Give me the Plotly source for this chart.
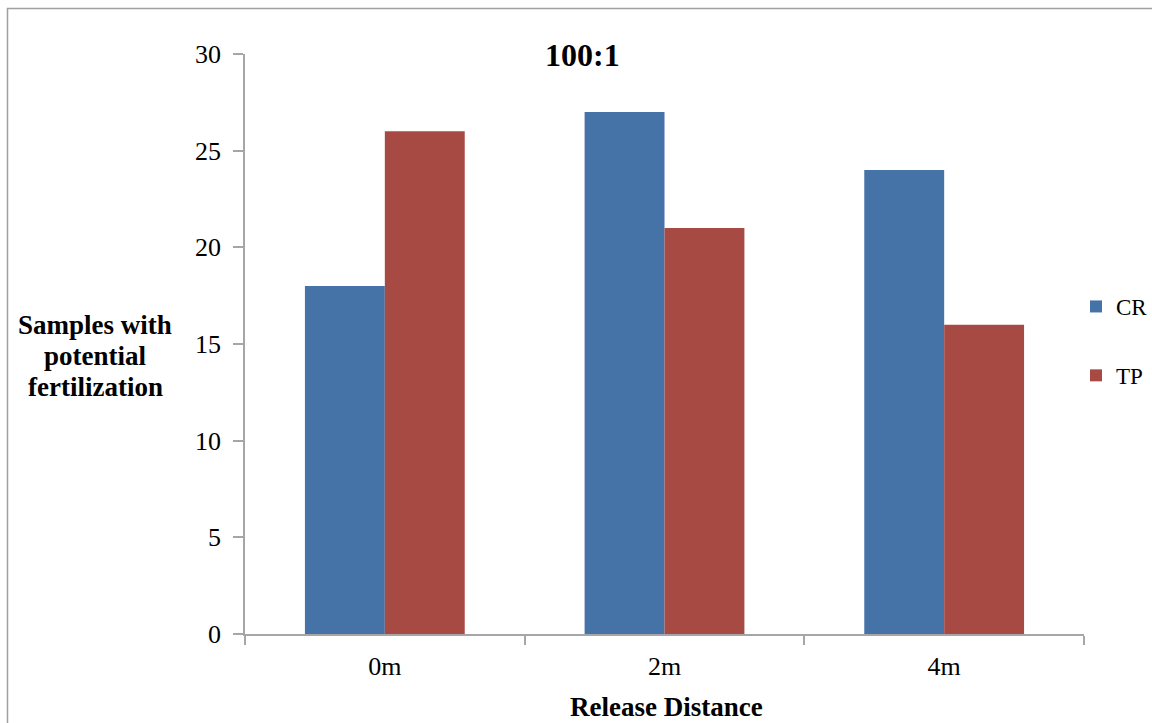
import plotly.graph_objects as go

categories = ["0m", "2m", "4m"]
cr_values = [18, 27, 24]
tp_values = [26, 21, 16]
y_ticks = [0, 5, 10, 15, 20, 25, 30]
y_title_lines = ["Samples with", "potential", "fertilization"]

FONT = "Liberation Serif"
AXIS_COLOR = "#a6a6a6"

fig = go.Figure()
fig.add_trace(go.Bar(name="CR", x=categories, y=cr_values, marker_color="#4572A7",
                     marker_line_width=0, legendgroup="CR"))
fig.add_trace(go.Bar(name="TP", x=categories, y=tp_values, marker_color="#A84A44",
                     marker_line_width=0, legendgroup="TP"))

L, R, T, B = 245, 1084, 54, 634
W, H = 1152, 723
pw, ph = R - L, B - T

annotations = [
    dict(text="<b>100:1</b>", x=(582 - L) / pw, y=(B - 55) / ph, xref="paper", yref="paper",
         xanchor="center", yanchor="middle", showarrow=False,
         font=dict(family=FONT, size=32, color="black")),
    dict(text="<b>Release Distance</b>", x=(666 - L) / pw, y=(B - 707) / ph, xref="paper",
         yref="paper", xanchor="center", yanchor="middle", showarrow=False,
         font=dict(family=FONT, size=27, color="black")),
]
for i, line in enumerate(y_title_lines):
    annotations.append(
        dict(text="<b>" + line + "</b>", x=(95 - L) / pw, y=(B - (325 + 31 * i)) / ph,
             xref="paper", yref="paper", xanchor="center", yanchor="middle",
             showarrow=False, font=dict(family=FONT, size=27, color="black")))

fig.update_layout(
    width=W, height=H,
    margin=dict(l=L, r=W - R, t=T, b=H - B, pad=0, autoexpand=False),
    paper_bgcolor="white", plot_bgcolor="white",
    barmode="group", bargap=0.4286, bargroupgap=0,
    font=dict(family=FONT, size=26, color="black"),
    showlegend=True,
    legend=dict(xref="container", yref="container", x=1076 / W, xanchor="left",
                y=1 - 341 / H, yanchor="middle",
                traceorder="grouped", tracegroupgap=36,
                font=dict(family=FONT, size=23, color="black"),
                itemwidth=30, bgcolor="rgba(0,0,0,0)"),
    xaxis=dict(showline=True, linecolor=AXIS_COLOR, linewidth=1.5, automargin=False,
               ticks="outside", tickson="boundaries", ticklen=9, tickcolor=AXIS_COLOR,
               tickwidth=1.5, showgrid=False, tickfont=dict(family=FONT, size=26),
               ticklabelstandoff=8),
    yaxis=dict(range=[0, 30], tickvals=y_ticks, showline=True, linecolor=AXIS_COLOR,
               linewidth=1.5, ticks="outside", ticklen=10, tickcolor=AXIS_COLOR, tickwidth=1.5,
               showgrid=False, zeroline=False, tickfont=dict(family=FONT, size=26),
               ticklabelstandoff=7, automargin=False),
    annotations=annotations,
    shapes=[
        dict(type="rect", xref="paper", yref="paper",
             x0=(7.5 - L) / pw, x1=(W + 20 - L) / pw,
             y0=(B - 8.5) / ph, y1=(B - H - 20) / ph,
             line=dict(color="#a0a0a0", width=1.5), fillcolor="rgba(0,0,0,0)", layer="below"),
    ],
)

fig.write_html("out.html")
